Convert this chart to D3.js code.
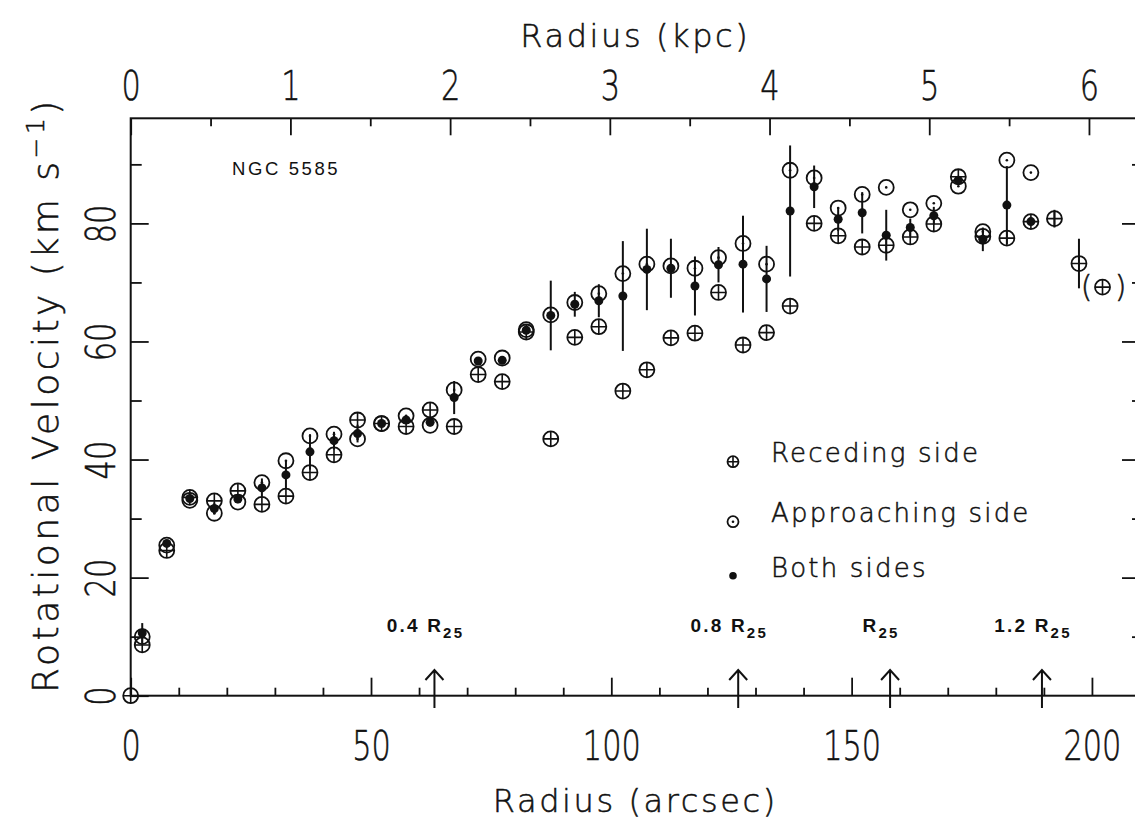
<!DOCTYPE html>
<html>
<head>
<meta charset="utf-8">
<script src="https://cdn.jsdelivr.net/npm/d3@7"></script>
<style>
  body { margin: 0; background: #fff; }
  svg { display: block; }
  text { font-family: "DejaVu Sans", sans-serif; font-weight: 200; fill: #111; stroke: #111; stroke-width: 0.5; }
  text.helv { font-family: "Liberation Sans", Arial, sans-serif; stroke: none; }
</style>
</head>
<body>
<svg id="chart" width="1135" height="821"></svg>
<script>
// radius of each ring (arcsec) and the rotation velocities (km/s)
const radius = [0, 2.4, 7.5, 12.3, 17.4, 22.3, 27.3, 32.3, 37.3, 42.3, 47.2, 52.2, 57.3, 62.3,
  67.3, 72.3, 77.3, 82.3, 87.4, 92.4, 97.4, 102.4, 107.4, 112.4, 117.4, 122.3, 127.4, 132.3,
  137.2, 142.2, 147.2, 152.2, 157.2, 162.2, 167.1, 172.2, 177.3, 182.3, 187.3, 192.2, 197.3, 202.2]
const recVel = [0, 8.6, 24.6, 33.6, 33.0, 34.7, 32.4, 33.8, 37.8, 40.8, 46.7, 46.1, 45.6, 48.4,
  45.6, 54.4, 53.2, 61.6, 43.5, 60.7, 62.5, 51.6, 55.2, 60.6, 61.4, 68.3, 59.4, 61.5,
  66.0, 80.0, 77.9, 76.0, 76.3, 77.7, 79.9, 87.9, 77.8, 77.5, 80.3, 80.8, 73.2, 69.2]
const appVel = [null, 10.0, 25.5, 33.1, 30.9, 32.8, 36.1, 39.8, 44.0, 44.3, 43.5, 46.1, 47.4, 45.8,
  51.8, 57.0, 57.2, 62.0, 64.5, 66.6, 68.1, 71.5, 73.1, 72.8, 72.4, 74.2, 76.6, 73.1,
  89.0, 87.7, 82.6, 84.9, 86.1, 82.3, 83.4, 86.3, 78.6, 90.7, 88.6, null, null, null]
const bothVel = [null, 10.6, 25.8, 33.4, 31.7, 33.3, 35.2, 37.4, 41.3, 43.2, 44.4, 46.1, 46.7, 46.3,
  50.5, 56.7, 56.8, 61.9, 64.4, 66.3, 66.9, 67.7, 72.2, 72.4, 69.4, 73.0, 73.1, 70.6,
  82.1, 86.2, 80.7, 81.8, 78.0, 79.3, 81.3, 87.3, 77.3, 83.1, 80.3, null, null, null]
const errVel = [0, 1.7, 0.5, 0, 1.0, 0.5, 1.6, 2.4, 3.0, 1.5, 1.5, 0, 0.5, 0.5,
  2.8, 0.5, 0.5, 0, 5.9, 2.1, 2.8, 9.3, 6.9, 5.0, 5.0, 3.0, 8.2, 5.6,
  11.1, 3.6, 2.0, 3.5, 4.3, 1.5, 1.5, 0, 2.0, 6.6, 0, 1.5, 4.2, 0]
const uncertainRadius = 202.2  // point shown in brackets

// axis ticks
const arcMajor = [0, 50, 100, 150, 200]
const arcMinor = [10, 20, 30, 40, 60, 70, 80, 90, 110, 120, 130, 140, 160, 170, 180, 190]
const kpcMajor = [0, 1, 2, 3, 4, 5, 6]
const kpcMinor = [0.5, 1.5, 2.5, 3.5, 4.5, 5.5]
const velMajor = [0, 20, 40, 60, 80]
const velMinor = [10, 30, 50, 70, 90]
const arcsecPerKpc = 33.23

// optical radius markers
const r25 = 158
const r25Fracs = [0.4, 0.8, 1.0, 1.2]
const r25Prefix = ['0.4 ', '0.8 ', '', '1.2 ']

const legendItems = [
  {type: 'rec', label: 'Receding side'},
  {type: 'app', label: 'Approaching side'},
  {type: 'both', label: 'Both sides'},
]

const svg = d3.select('#chart')
const ink = '#111'

const x = d3.scaleLinear().domain([0, 210]).range([130.7, 1140])
const xk = d3.scaleLinear().domain([0, 210 / arcsecPerKpc]).range([130.7, 1140])
const y = d3.scaleLinear().domain([0, 97.8]).range([695.7, 118.3])
const midX = (x(0) + x(210)) / 2

const points = radius.map((r, i) => ({
  r, rec: recVel[i], app: appVel[i], both: bothVel[i], err: errVel[i],
}))

// frame
svg.append('rect')
  .attr('x', x(0)).attr('y', y(97.8))
  .attr('width', x(210) - x(0)).attr('height', y(0) - y(97.8))
  .attr('fill', 'none').attr('stroke', ink).attr('stroke-width', 2)

function cleanAxis(g) {
  g.attr('font-size', null).attr('font-family', null)
  g.select('.domain').remove()
  g.selectAll('.tick line').attr('stroke', ink).attr('stroke-width', 1.8)
}

function addAxis(axis, transform) {
  return svg.append('g').attr('transform', transform).call(axis).call(cleanAxis)
}

// bottom (arcsec)
addAxis(d3.axisBottom(x).tickValues(arcMinor).tickSize(-8).tickFormat(''), `translate(0,${y(0)})`)
addAxis(d3.axisBottom(x).tickValues(arcMajor).tickSize(-18), `translate(0,${y(0)})`)
  .selectAll('text')
  .attr('y', 64).attr('dy', null)
  .attr('font-size', 40).attr('transform', 'scale(0.76,1)')

// top (kpc)
addAxis(d3.axisTop(xk).tickValues(kpcMinor).tickSize(-8).tickFormat(''), `translate(0,${y(97.8)})`)
addAxis(d3.axisTop(xk).tickValues(kpcMajor).tickSize(-17).tickFormat(d3.format('d')), `translate(0,${y(97.8)})`)
  .selectAll('text')
  .attr('y', -18).attr('dy', null)
  .attr('font-size', 40).attr('transform', 'scale(0.76,1)')

// left
addAxis(d3.axisLeft(y).tickValues(velMinor).tickSize(-11).tickFormat(''), `translate(${x(0)},0)`)
addAxis(d3.axisLeft(y).tickValues(velMajor).tickSize(-18), `translate(${x(0)},0)`)
  .selectAll('text')
  .attr('x', 0).attr('dy', null)
  .attr('text-anchor', 'middle')
  .attr('font-size', 40)
  .attr('transform', 'translate(-16,0) rotate(-90) scale(0.76,1)')

// right
addAxis(d3.axisRight(y).tickValues(velMinor).tickSize(-8).tickFormat(''), `translate(${x(210)},0)`)
addAxis(d3.axisRight(y).tickValues(velMajor.slice(1)).tickSize(-18).tickFormat(''), `translate(${x(210)},0)`)

// axis titles
svg.append('text')
  .attr('x', midX).attr('y', 47)
  .attr('text-anchor', 'middle')
  .attr('font-size', 32).attr('letter-spacing', 2.6)
  .text('Radius (kpc)')

svg.append('text')
  .attr('x', midX).attr('y', 812)
  .attr('text-anchor', 'middle')
  .attr('font-size', 32).attr('letter-spacing', 2.6)
  .text('Radius (arcsec)')

const yTitle = svg.append('text')
  .attr('transform', 'translate(58,395) rotate(-90)')
  .attr('text-anchor', 'middle')
  .attr('font-size', 36).attr('letter-spacing', 3.5)
yTitle.append('tspan').text('Rotational Velocity (km s')
yTitle.append('tspan').attr('font-size', 25).attr('dy', -14).text('\u22121')
yTitle.append('tspan').attr('dy', 14).text(')')

svg.append('text')
  .attr('class', 'helv')
  .attr('x', 232).attr('y', 175)
  .style('font-weight', 400)
  .attr('font-size', 18.5).attr('letter-spacing', 2.6)
  .text('NGC 5585')

// marker shapes
function recMarker(g, r) {
  g.append('circle').attr('r', r).attr('fill', 'none').attr('stroke', ink).attr('stroke-width', 1.8)
  g.append('path').attr('d', `M${-r},0H${r}M0,${-r}V${r}`).attr('stroke', ink).attr('stroke-width', 1.6)
}
function appMarker(g, r) {
  g.append('circle').attr('r', r).attr('fill', 'none').attr('stroke', ink).attr('stroke-width', 1.8)
  g.append('circle').attr('r', 1.3).attr('fill', ink)
}
function bothMarker(g, r) {
  g.append('circle').attr('r', r).attr('fill', ink)
}
const markers = {rec: recMarker, app: appMarker, both: bothMarker}

// error bars
svg.append('g')
  .selectAll('line')
  .data(points.filter((d) => d.err > 0))
  .join('line')
  .attr('x1', (d) => x(d.r)).attr('x2', (d) => x(d.r))
  .attr('y1', (d) => y((d.both ?? d.rec) - d.err))
  .attr('y2', (d) => y((d.both ?? d.rec) + d.err))
  .attr('stroke', ink).attr('stroke-width', 2)

// data markers
for (const [key, size] of [['rec', 7.5], ['app', 7.5], ['both', 4.5]]) {
  svg.append('g')
    .selectAll('g')
    .data(points.filter((d) => d[key] != null))
    .join('g')
    .attr('transform', (d) => `translate(${x(d.r)},${y(d[key])})`)
    .each(function () { markers[key](d3.select(this), size) })
}

// brackets round the uncertain outer point
const outer = points.find((d) => d.r === uncertainRadius)
svg.append('g')
  .selectAll('text')
  .data([['(', -16], [')', 18]])
  .join('text')
  .attr('x', (d) => x(outer.r) + d[1])
  .attr('y', y(outer.rec) + 9.5)
  .attr('text-anchor', 'middle')
  .attr('font-size', 30)
  .text((d) => d[0])

// R25 arrows and labels
const arrows = svg.append('g')
  .selectAll('g')
  .data(r25Fracs.map((f, i) => ({r: f * r25, prefix: r25Prefix[i]})))
  .join('g')
  .attr('transform', (d) => `translate(${x(d.r)},0)`)
arrows.append('path')
  .attr('d', 'M0,670V708M-9,680L0,670L9,680')
  .attr('fill', 'none').attr('stroke', ink).attr('stroke-width', 2)
const arrowText = arrows.append('text')
  .attr('class', 'helv')
  .attr('x', -9).attr('y', 632)
  .attr('text-anchor', 'middle')
  .style('font-weight', 700)
  .attr('font-size', 19).attr('letter-spacing', 2.2)
arrowText.append('tspan').text((d) => d.prefix + 'R')
arrowText.append('tspan').attr('font-size', 15).attr('dy', 6).text('25')

// legend
const legendRows = [461.7, 521.7, 576.7]
const legend = svg.append('g')
  .selectAll('g')
  .data(legendItems)
  .join('g')
  .attr('transform', (d, i) => `translate(733,${legendRows[i]})`)
legend.append('g')
  .attr('transform', (d) => `translate(0,${d.type === 'both' ? -1 : 0})`)
  .each(function (d) { markers[d.type](d3.select(this), d.type === 'both' ? 3.8 : 5.5) })
legend.append('text')
  .attr('x', 38).attr('y', 0)
  .attr('font-size', 26).attr('letter-spacing', 2.2)
  .text((d) => d.label)
</script>
</body>
</html>
